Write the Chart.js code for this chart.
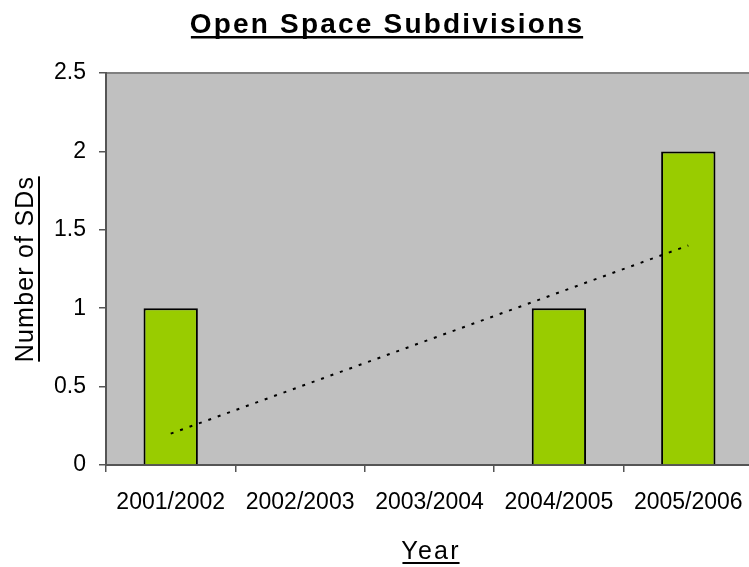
<!DOCTYPE html>
<html>
<head>
<meta charset="utf-8">
<script src="https://cdn.jsdelivr.net/npm/chart.js@4/dist/chart.umd.min.js"></script>
<style>
  html, body { margin: 0; padding: 0; background: #fff; overflow: hidden; }
  #wrap { width: 749px; height: 567px; overflow: hidden; }
</style>
</head>
<body>
<div id="wrap"><canvas id="sdChart" width="753" height="567"></canvas></div>
<script>
const years = ["2001/2002", "2002/2003", "2003/2004", "2004/2005", "2005/2006"];
const subdivisions = [1, 0, 0, 1, 2];
// linear trend, only the two ends are given
const trend = [0.2, null, null, null, 1.4];
const yTicks = [0, 0.5, 1, 1.5, 2, 2.5];

const FONT = "'Liberation Sans', Arial, sans-serif";

// gray plot background and the top border line
const plotBackground = {
  id: "plotBackground",
  beforeDraw(chart) {
    const { ctx, chartArea: a } = chart;
    ctx.save();
    ctx.fillStyle = "#c0c0c0";
    ctx.fillRect(a.left, a.top, a.right - a.left, a.bottom - a.top);
    ctx.strokeStyle = "#808080";
    ctx.lineWidth = 2;
    ctx.beginPath();
    ctx.moveTo(a.left, a.top);
    ctx.lineTo(a.right, a.top);
    ctx.stroke();
    ctx.restore();
  }
};

function underlined(ctx, text, x, y, font, spacing, lineGap, lineW) {
  ctx.font = font;
  ctx.letterSpacing = spacing + "px";
  ctx.textAlign = "center";
  ctx.textBaseline = "alphabetic";
  ctx.fillStyle = "#000";
  ctx.fillText(text, x, y);
  const w = ctx.measureText(text).width - spacing;
  ctx.fillRect(x - w / 2, y + lineGap, w, lineW);
}

// title and axis titles, all underlined
const titles = {
  id: "titles",
  afterDraw(chart) {
    const { ctx, chartArea: a } = chart;
    ctx.save();
    underlined(ctx, "Open Space Subdivisions", 387, 33, "bold 28px " + FONT, 2.2, 3, 2.5);
    underlined(ctx, "Year", 431, 559, "25px " + FONT, 2.2, 3, 2);
    ctx.translate(33, (a.top + a.bottom) / 2);
    ctx.rotate(-Math.PI / 2);
    underlined(ctx, "Number of SDs", 0, 0, "25px " + FONT, 1.2, 5, 2);
    ctx.restore();
  }
};

new Chart(document.getElementById("sdChart"), {
  data: {
    labels: years,
    datasets: [
      {
        type: "line",
        data: trend,
        spanGaps: true,
        borderColor: "#000",
        borderWidth: 2,
        borderDash: [3, 7],
        pointRadius: 0,
        fill: false,
        order: 0
      },
      {
        type: "bar",
        data: subdivisions,
        backgroundColor: "#99cc00",
        borderColor: "#000",
        borderWidth: 2,
        categoryPercentage: 1,
        barPercentage: 0.42,
        order: 1
      }
    ]
  },
  options: {
    responsive: false,
    animation: false,
    layout: { padding: { top: 73, right: 0, bottom: 0, left: 0 } },
    plugins: {
      legend: { display: false },
      tooltip: { enabled: false },
      title: { display: false }
    },
    scales: {
      x: {
        offset: true,
        afterFit(s) {
          s.height = 102;
          s.paddingLeft = 0;
          s.paddingRight = 0;
        },
        grid: {
          offset: true,
          drawOnChartArea: false,
          tickLength: 7,
          color: "#555",
          lineWidth: 1.5
        },
        border: { color: "#555", width: 2 },
        ticks: {
          color: "#000",
          padding: 17,
          maxRotation: 0,
          autoSkip: false,
          font: { family: FONT, size: 23 }
        }
      },
      y: {
        min: yTicks[0],
        max: yTicks[yTicks.length - 1],
        afterFit(s) { s.width = 106; },
        afterBuildTicks(s) { s.ticks = yTicks.map(v => ({ value: v })); },
        grid: {
          drawOnChartArea: false,
          tickLength: 7,
          color: "#555",
          lineWidth: 1.5
        },
        border: { color: "#555", width: 2 },
        ticks: {
          color: "#000",
          padding: 13,
          callback: v => String(v),
          font: { family: FONT, size: 23 }
        }
      }
    }
  },
  plugins: [plotBackground, titles]
});
</script>
</body>
</html>
